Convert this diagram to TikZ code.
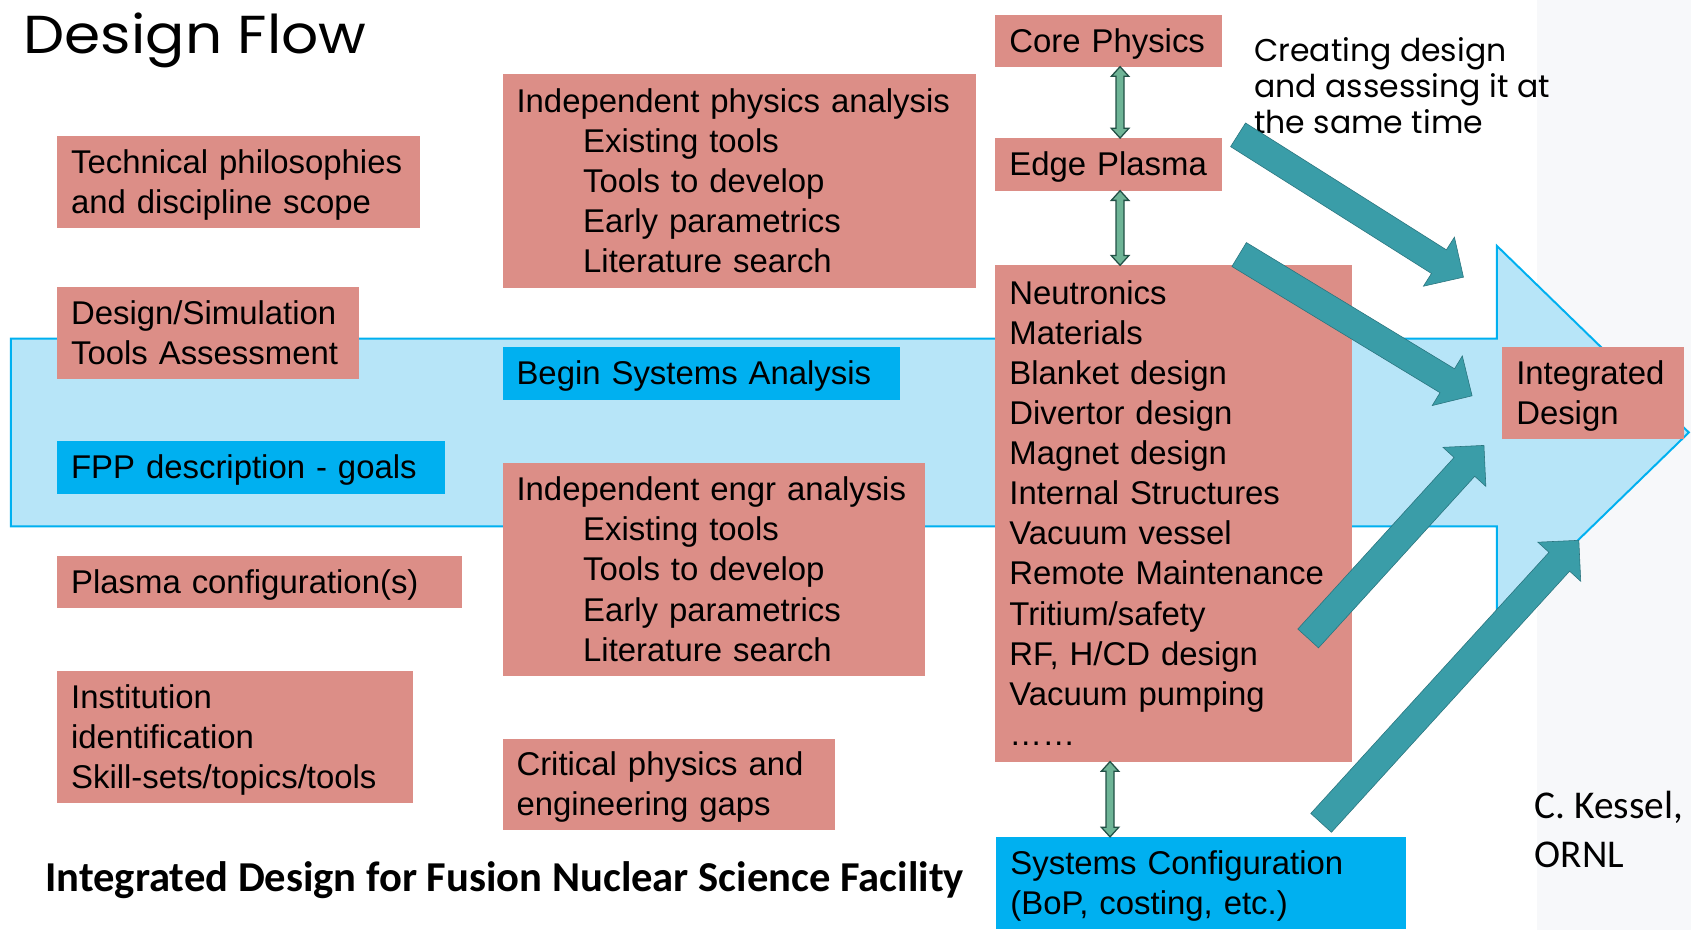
\documentclass[tikz,border=0pt]{standalone}
\usepackage{fontspec}
\setmainfont{Liberation Sans}
\newfontfamily\gothicfont{Poppins}
\newfontfamily\calibfont{Carlito}
\usetikzlibrary{calc}

\definecolor{salmon}{RGB}{220,142,135}
\definecolor{skyblue}{RGB}{0,176,240}
\definecolor{paleblue}{RGB}{183,229,248}
\definecolor{tealfill}{RGB}{58,157,168}
\definecolor{tealedge}{RGB}{40,115,125}
\definecolor{dkgreen}{RGB}{34,80,70}
\definecolor{ltgreen}{RGB}{110,180,150}
\definecolor{panelgray}{RGB}{247,248,250}

\newcommand\boxfont{\fontsize{46.8}{57}\selectfont}
\newcommand\ind{\hspace*{94.8pt}}
% line-box strut: ascent and descent of the box font
\newcommand\bstrut{\rule[-0.212em]{0pt}{1.117em}}

% box node: name, x, y, width, height (in picture units), text, fill
\newcommand\pbox[7]{%
  \pgfmathsetmacro\pbw{#4*1.5283}%
  \pgfmathsetmacro\pbh{#5*1.5283}%
  \pgfmathsetmacro\ptw{(#4-26)*1.5283}%
  \node[boxnode, fill=#7, minimum width=\pbw pt, minimum height=\pbh pt,
        text width=\ptw pt] (#1) at (#2,#3) {\bstrut#6\bstrut};}

% block arrow from tail coordinate to tip coordinate
\newcommand\fatarrow[2]{%
  \coordinate (fah) at ($(#2)!41.3pt!(#1)$);
  \draw[fatarrowstyle] ($(#1)!19.9pt!90:(#2)$) -- ($(fah)!19.9pt!90:(#2)$)
    -- ($(fah)!41.3pt!90:(#2)$) -- (#2) -- ($(fah)!41.3pt!-90:(#2)$)
    -- ($(fah)!19.9pt!-90:(#2)$) -- ($(#1)!19.9pt!-90:(#2)$) -- cycle;}

% double-headed narrow arrow between two coordinates
\newcommand\dblarrow[2]{%
  \coordinate (dha) at ($(#1)!13.8pt!(#2)$);
  \coordinate (dhb) at ($(#2)!13.8pt!(#1)$);
  \draw[dblarrowstyle] (#1) -- ($(dha)!12.5pt!90:(#2)$) -- ($(dha)!5.65pt!90:(#2)$)
    -- ($(dhb)!5.65pt!-90:(#1)$) -- ($(dhb)!12.5pt!-90:(#1)$) -- (#2)
    -- ($(dhb)!12.5pt!90:(#1)$) -- ($(dhb)!5.65pt!90:(#1)$)
    -- ($(dha)!5.65pt!-90:(#2)$) -- ($(dha)!12.5pt!-90:(#2)$) -- cycle;}

\begin{document}
\begin{tikzpicture}[x=0.05392cm,y=-0.05392cm,
  boxnode/.style={anchor=north west, inner xsep=19.87pt, inner ysep=0pt, outer sep=0pt,
                  align=left, font=\boxfont},
  fatarrowstyle/.style={fill=tealfill, draw=tealedge, line width=0.8pt, line join=miter},
  dblarrowstyle/.style={fill=ltgreen, draw=dkgreen, line width=1.8pt, line join=miter},
  plain/.style={inner sep=0pt, outer sep=0pt, align=left}]

\fill[white] (0,0) rectangle (1568,862);
\useasboundingbox (0,0) rectangle (1568,862);
\fill[panelgray] (1425,0) rectangle (1568,862);

% large flow arrow in the background
\draw[fill=paleblue, draw=skyblue, line width=2.8pt, line join=miter]
  (10,314) -- (1388,314) -- (1388,228) -- (1566,401) -- (1388,574)
  -- (1388,488) -- (10,488) -- cycle;

% left column
\pbox{tech}{53}{126}{338}{86}{Technical philosophies\\and discipline scope}{salmon}
\pbox{sim}{53}{266}{281}{86}{Design/Simulation\\Tools Assessment}{salmon}
\pbox{fpp}{53}{409}{361}{49}{FPP description - goals}{skyblue}
\pbox{plasma}{53}{516}{377}{48}{Plasma configuration(s)}{salmon}
\pbox{inst}{53}{622}{331}{123}{Institution\\identification\\Skill-sets/topics/tools}{salmon}

% middle column
\pbox{phys}{466}{69}{441}{199}{Independent physics analysis\\\ind Existing tools\\\ind Tools to develop\\\ind Early parametrics\\\ind Literature search}{salmon}
\pbox{begin}{466}{322}{370}{49}{Begin Systems Analysis}{skyblue}
\pbox{engr}{466}{429}{393}{199}{Independent engr analysis\\\ind Existing tools\\\ind Tools to develop\\\ind Early parametrics\\\ind Literature search}{salmon}
\pbox{gaps}{466}{685}{309}{85}{Critical physics and\\engineering gaps}{salmon}

% right column
\pbox{core}{923}{14}{211}{48}{Core Physics}{salmon}
\pbox{edge}{923}{128}{211}{49}{Edge Plasma}{salmon}
\pbox{comp}{923}{246}{332}{462}{Neutronics\\Materials\\Blanket design\\Divertor design\\Magnet design\\Internal Structures\\Vacuum vessel\\Remote Maintenance\\Tritium/safety\\RF, H/CD design\\Vacuum pumping\\……}{salmon}
\pbox{syscfg}{924}{776}{381}{86}{Systems Configuration\\(BoP, costing, etc.)}{skyblue}
\pbox{integ}{1393}{322}{169}{85}{Integrated\\Design}{salmon}

% links between the right-column boxes
\coordinate (axA) at (1038.6,0);
\coordinate (axB) at (1029.3,0);
\dblarrow{core.south -| axA}{edge.north -| axA}
\dblarrow{edge.south -| axA}{comp.north -| axA}
\dblarrow{comp.south -| axB}{syscfg.north -| axB}

% headings and notes
\node[plain, anchor=base west] (title) at (22,50)
  {\gothicfont\fontsize{76}{80}\selectfont\scalebox{1.09}[1]{Design Flow}};
\node[plain, anchor=base west, font={\gothicfont\fontsize{44.8}{51.2}\selectfont}] (note)
  at (1163,123.7) {Creating design\\and assessing it at\\the same time};
\node[plain, anchor=base west, font={\calibfont\bfseries\fontsize{60.6}{70}\selectfont}] (caption)
  at (42,827) {Integrated Design for Fusion Nuclear Science Facility};
\node[plain, anchor=base west, font={\calibfont\fontsize{56}{68.8}\selectfont}] (author)
  at (1423,804) {C. Kessel,\\ORNL};

% converging arrows towards the integrated design
\coordinate (tA) at (1148,125);  \coordinate (hA) at (1357,257);
\coordinate (tB) at (1149,236);  \coordinate (hB) at (1365,367);
\coordinate (tC) at (1213,592);  \coordinate (hC) at (1376,413);
\coordinate (tD) at (1225,763);  \coordinate (hD) at (1464,501);
\fatarrow{tA}{hA}
\fatarrow{tB}{hB}
\fatarrow{tC}{hC}
\fatarrow{tD}{hD}

\end{tikzpicture}
\end{document}
